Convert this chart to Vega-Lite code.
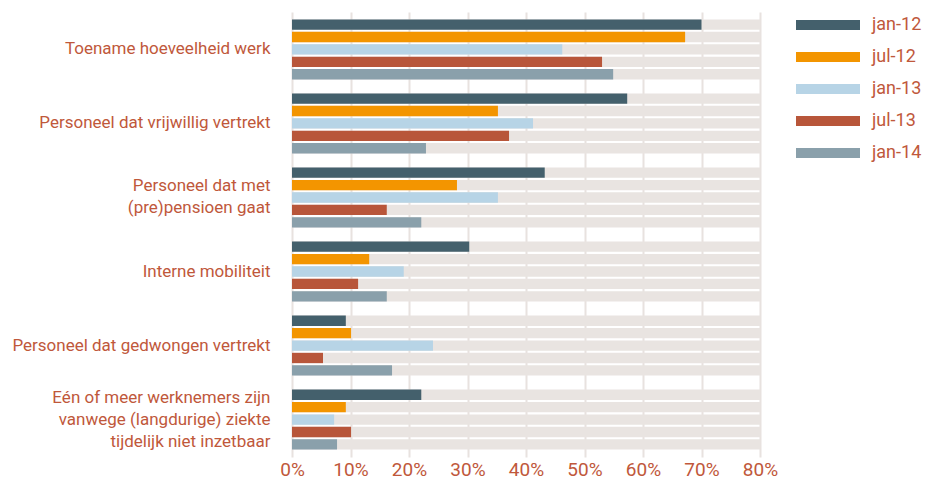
{
  "$schema": "https://vega.github.io/schema/vega-lite/v6.json",
  "autosize": {"type": "none"},
  "width": 468,
  "height": 445,
  "padding": {"left": 292, "top": 12, "right": 172, "bottom": 26},
  "background": "white",
  "config": {
    "view": {"stroke": null},
    "font": "Roboto",
    "text": {"color": "#c0583b"}
  },
  "data": {
    "values": [
      {"cat": "Toename hoeveelheid werk", "series": "jan-12", "value": 70.0},
      {"cat": "Toename hoeveelheid werk", "series": "jul-12", "value": 67.2},
      {"cat": "Toename hoeveelheid werk", "series": "jan-13", "value": 46.2},
      {"cat": "Toename hoeveelheid werk", "series": "jul-13", "value": 53.0},
      {"cat": "Toename hoeveelheid werk", "series": "jan-14", "value": 54.9},
      {"cat": "Personeel dat vrijwillig vertrekt", "series": "jan-12", "value": 57.3},
      {"cat": "Personeel dat vrijwillig vertrekt", "series": "jul-12", "value": 35.2},
      {"cat": "Personeel dat vrijwillig vertrekt", "series": "jan-13", "value": 41.2},
      {"cat": "Personeel dat vrijwillig vertrekt", "series": "jul-13", "value": 37.1},
      {"cat": "Personeel dat vrijwillig vertrekt", "series": "jan-14", "value": 22.9},
      {"cat": "Personeel dat met|(pre)pensioen gaat", "series": "jan-12", "value": 43.2},
      {"cat": "Personeel dat met|(pre)pensioen gaat", "series": "jul-12", "value": 28.2},
      {"cat": "Personeel dat met|(pre)pensioen gaat", "series": "jan-13", "value": 35.2},
      {"cat": "Personeel dat met|(pre)pensioen gaat", "series": "jul-13", "value": 16.2},
      {"cat": "Personeel dat met|(pre)pensioen gaat", "series": "jan-14", "value": 22.1},
      {"cat": "Interne mobiliteit", "series": "jan-12", "value": 30.3},
      {"cat": "Interne mobiliteit", "series": "jul-12", "value": 13.2},
      {"cat": "Interne mobiliteit", "series": "jan-13", "value": 19.1},
      {"cat": "Interne mobiliteit", "series": "jul-13", "value": 11.3},
      {"cat": "Interne mobiliteit", "series": "jan-14", "value": 16.2},
      {"cat": "Personeel dat gedwongen vertrekt", "series": "jan-12", "value": 9.2},
      {"cat": "Personeel dat gedwongen vertrekt", "series": "jul-12", "value": 10.1},
      {"cat": "Personeel dat gedwongen vertrekt", "series": "jan-13", "value": 24.1},
      {"cat": "Personeel dat gedwongen vertrekt", "series": "jul-13", "value": 5.3},
      {"cat": "Personeel dat gedwongen vertrekt", "series": "jan-14", "value": 17.1},
      {"cat": "Eén of meer werknemers zijn|vanwege (langdurige) ziekte|tijdelijk niet inzetbaar", "series": "jan-12", "value": 22.1},
      {"cat": "Eén of meer werknemers zijn|vanwege (langdurige) ziekte|tijdelijk niet inzetbaar", "series": "jul-12", "value": 9.2},
      {"cat": "Eén of meer werknemers zijn|vanwege (langdurige) ziekte|tijdelijk niet inzetbaar", "series": "jan-13", "value": 7.2},
      {"cat": "Eén of meer werknemers zijn|vanwege (langdurige) ziekte|tijdelijk niet inzetbaar", "series": "jul-13", "value": 10.1},
      {"cat": "Eén of meer werknemers zijn|vanwege (langdurige) ziekte|tijdelijk niet inzetbaar", "series": "jan-14", "value": 7.7}
    ]
  },
  "encoding": {
    "y": {
      "field": "cat",
      "type": "nominal",
      "sort": null,
      "title": null,
      "scale": {"paddingInner": 0.19, "paddingOuter": 0.1},
      "axis": {
        "labelExpr": "split(datum.label, '|')",
        "labelFont": "Roboto",
        "labelFontSize": 17,
        "labelColor": "#c0583b",
        "labelLineHeight": 22,
        "labelPadding": 22,
        "labelLimit": 400,
        "labelOffset": {
          "condition": [
            {"test": "indexof(datum.value, 'Eén') == 0", "value": -22},
            {"test": "indexof(datum.value, '|') >= 0", "value": -11}
          ],
          "value": 0
        },
        "ticks": false,
        "domain": false,
        "grid": false
      }
    },
    "yOffset": {
      "field": "series",
      "type": "nominal",
      "sort": ["jan-12", "jul-12", "jan-13", "jul-13", "jan-14"],
      "scale": {"paddingInner": 0.17, "paddingOuter": 0}
    }
  },
  "layer": [
    {
      "mark": {"type": "bar", "color": "#e9e4e1"},
      "encoding": {
        "x": {
          "datum": 80,
          "type": "quantitative",
          "scale": {"domain": [0, 80]},
          "title": null,
          "axis": {
            "values": [0, 10, 20, 30, 40, 50, 60, 70, 80],
            "labelExpr": "datum.value + '%'",
            "labelFont": "Roboto",
            "labelFontSize": 19,
            "labelColor": "#c0583b",
            "labelPadding": 3,
            "labelFlush": false,
            "labelOverlap": false,
            "ticks": false,
            "domain": false,
            "grid": true,
            "gridColor": "#e8e2df",
            "gridWidth": 2,
            "zindex": 0
          }
        }
      }
    },
    {
      "mark": {"type": "bar"},
      "encoding": {
        "x": {"field": "value", "type": "quantitative"},
        "color": {
          "field": "series",
          "type": "nominal",
          "sort": ["jan-12", "jul-12", "jan-13", "jul-13", "jan-14"],
          "scale": {
            "domain": ["jan-12", "jul-12", "jan-13", "jul-13", "jan-14"],
            "range": ["#44606c", "#f39500", "#b7d4e6", "#b8563a", "#8aa0ab"]
          },
          "legend": {
            "title": null,
            "orient": "none",
            "legendX": 504,
            "legendY": 5,
            "padding": 0,
            "symbolType": "M-1,-0.156L1,-0.156L1,0.156L-1,0.156Z",
            "symbolSize": 4096,
            "symbolStrokeWidth": 0,
            "symbolOpacity": 1,
            "clipHeight": 16,
            "rowPadding": 14,
            "labelOffset": 12,
            "labelFont": "Roboto",
            "labelFontSize": 18,
            "labelColor": "#c0583b"
          }
        }
      }
    }
  ]
}
